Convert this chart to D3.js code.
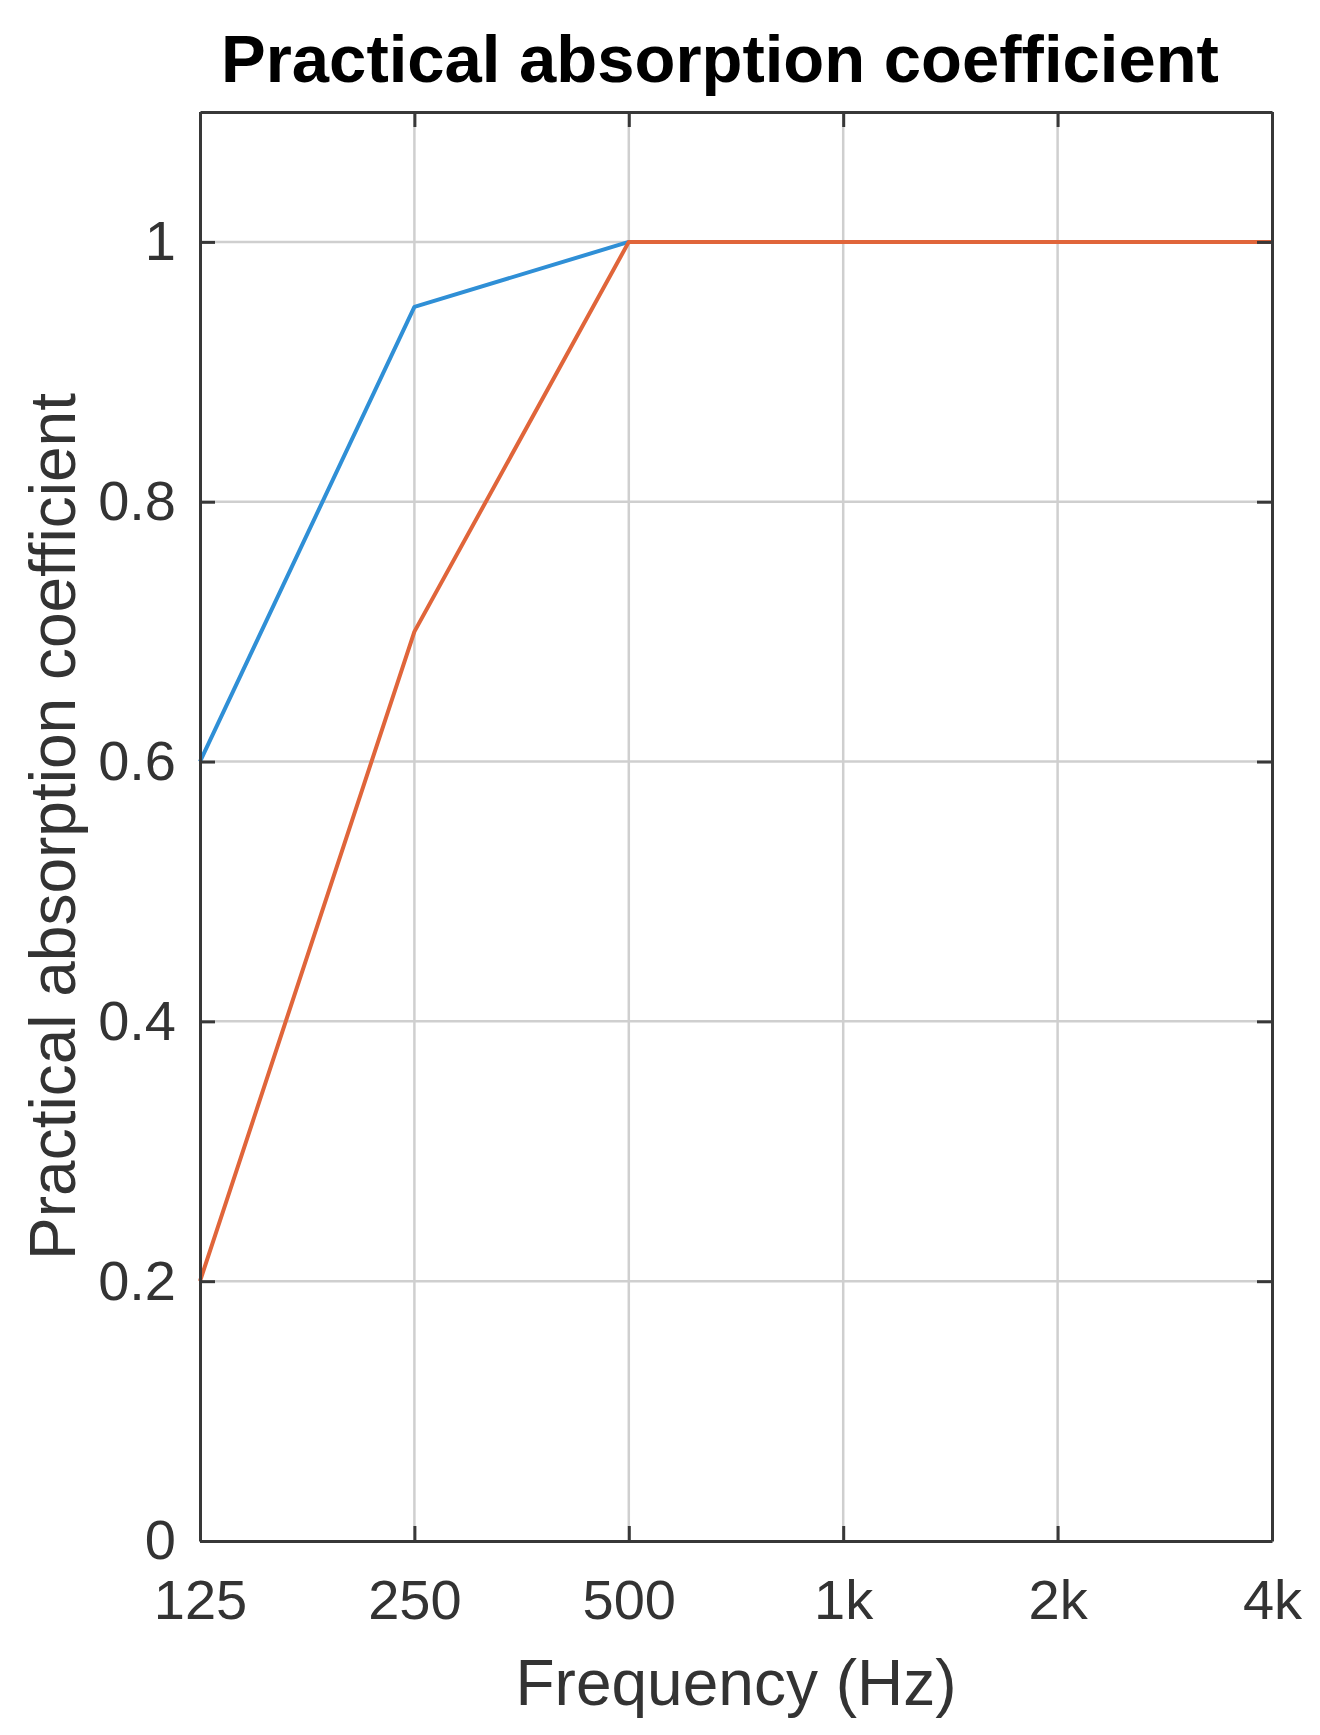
<!DOCTYPE html>
<html>
<head>
<meta charset="utf-8">
<script src="https://cdn.jsdelivr.net/npm/d3@7"></script>
<style>
  html, body { margin: 0; padding: 0; background: #fff; }
  svg { display: block; }
  text { font-family: "Liberation Sans", Arial, Helvetica, sans-serif; }
</style>
</head>
<body>
<svg id="chart" width="1320" height="1735"></svg>
<script>
// ---- data ----
const frequencies = [125, 250, 500, 1000, 2000, 4000];
const freqLabels = ["125", "250", "500", "1k", "2k", "4k"];
const seriesA = [0.6, 0.95, 1, 1, 1, 1];   // blue
const seriesB = [0.2, 0.7, 1, 1, 1, 1];    // orange
const yTicks = [0, 0.2, 0.4, 0.6, 0.8, 1];
const yTickLabels = ["0", "0.2", "0.4", "0.6", "0.8", "1"];
const titleText = "Practical absorption coefficient";
const xLabelText = "Frequency (Hz)";
const yLabelText = "Practical absorption coefficient";

// ---- layout ----
const L = 200, R = 1272, T = 112, B = 1541;
const svg = d3.select("#chart");

const x = d3.scaleLog().base(2).domain([125, 4000]).range([L, R]);
const y = d3.scaleLinear().domain([0, 1.1]).range([B, T]);

const axisColor = "#383838";
const gridColor = "#cfcfcf";
const textColor = "#333333";

// grid
const grid = svg.append("g");
grid.selectAll("line.vx").data(frequencies.slice(1, -1)).enter().append("line")
  .attr("x1", d => x(d)).attr("x2", d => x(d)).attr("y1", T).attr("y2", B)
  .attr("stroke", gridColor).attr("stroke-width", 2.5);
grid.selectAll("line.hy").data(yTicks.slice(1)).enter().append("line")
  .attr("x1", L).attr("x2", R).attr("y1", d => y(d)).attr("y2", d => y(d))
  .attr("stroke", gridColor).attr("stroke-width", 2.5);

// axes (inward ticks, box)
const tickLen = 15;
const xAxisB = d3.axisBottom(x).tickValues(frequencies).tickFormat((d, i) => freqLabels[i]).tickSizeInner(-tickLen).tickSizeOuter(0).tickPadding(38);
const xAxisT = d3.axisTop(x).tickValues(frequencies).tickFormat("").tickSizeInner(-tickLen).tickSizeOuter(0);
const yAxisL = d3.axisLeft(y).tickValues(yTicks).tickFormat((d, i) => yTickLabels[i]).tickSizeInner(-tickLen).tickSizeOuter(0).tickPadding(24);
const yAxisR = d3.axisRight(y).tickValues(yTicks).tickFormat("").tickSizeInner(-tickLen).tickSizeOuter(0);

function styleAxis(g) {
  g.select(".domain").attr("stroke", axisColor).attr("stroke-width", 3);
  g.selectAll(".tick line").attr("stroke", axisColor).attr("stroke-width", 3);
  g.selectAll(".tick text").attr("fill", textColor).attr("font-size", 56)
    .attr("font-family", "'Liberation Sans', Arial, sans-serif");
}

// lines
const line = d3.line().x((d, i) => x(frequencies[i])).y(d => y(d));
svg.append("path").datum(seriesA).attr("d", line)
  .attr("fill", "none").attr("stroke", "#2f8fd6").attr("stroke-width", 4).attr("stroke-linejoin", "round");
svg.append("path").datum(seriesB).attr("d", line)
  .attr("fill", "none").attr("stroke", "#e0653a").attr("stroke-width", 4).attr("stroke-linejoin", "round");

const gB = svg.append("g").attr("transform", `translate(0,${B})`).call(xAxisB); styleAxis(gB);
gB.selectAll(".tick text").attr("dy", "0.71em");
const gT = svg.append("g").attr("transform", `translate(0,${T})`).call(xAxisT); styleAxis(gT);
const gL = svg.append("g").attr("transform", `translate(${L},0)`).call(yAxisL); styleAxis(gL);
const gR = svg.append("g").attr("transform", `translate(${R},0)`).call(yAxisR); styleAxis(gR);

// title
svg.append("text").attr("x", 720).attr("y", 82).attr("text-anchor", "middle")
  .attr("font-size", 67).attr("font-weight", "bold").attr("fill", "#000").text(titleText);

// x label
svg.append("text").attr("x", (L + R) / 2).attr("y", 1705).attr("text-anchor", "middle")
  .attr("font-size", 64).attr("fill", textColor).text(xLabelText);

// y label
svg.append("text").attr("transform", `translate(75,${(T + B) / 2}) rotate(-90)`)
  .attr("text-anchor", "middle").attr("font-size", 64).attr("fill", textColor).text(yLabelText);
</script>
</body>
</html>
